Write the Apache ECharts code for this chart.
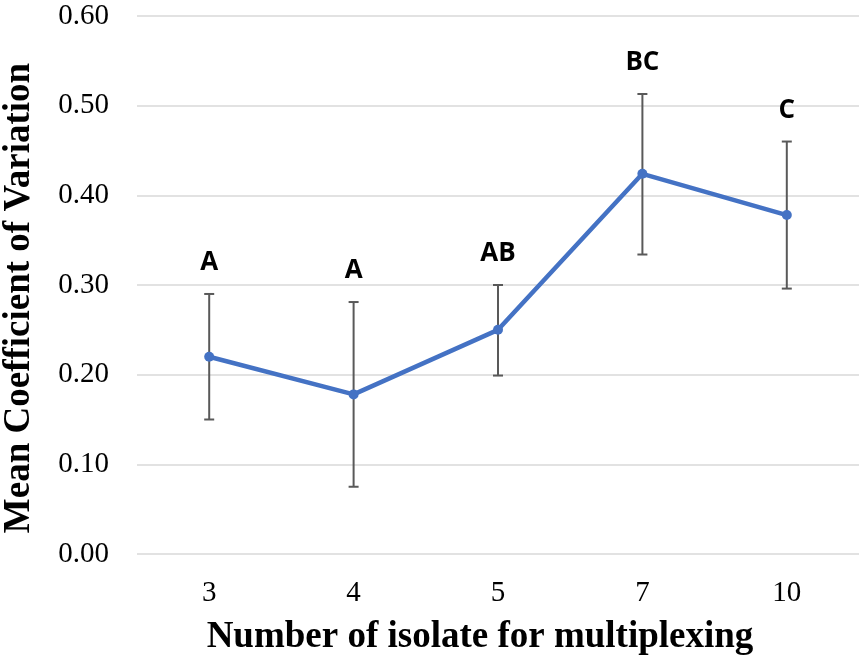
<!DOCTYPE html>
<html>
<head>
<meta charset="utf-8">
<script src="https://cdn.jsdelivr.net/npm/echarts@6/dist/echarts.min.js"></script>
<style>
  html, body { margin: 0; padding: 0; background: #fff; }
  #chart { width: 864px; height: 657px; }
</style>
</head>
<body>
<div id="chart"></div>
<script>
// data
const categories = ['3', '4', '5', '7', '10'];
const meanCV = [0.220, 0.178, 0.250, 0.424, 0.378];
const errLow = [0.150, 0.075, 0.199, 0.334, 0.296];
const errHigh = [0.290, 0.281, 0.300, 0.513, 0.460];
const groupLetters = ['A', 'A', 'AB', 'BC', 'C'];

const chart = echarts.init(document.getElementById('chart'));

const errData = categories.map((c, i) => [i, errLow[i], errHigh[i]]);

const option = {
  animation: false,
  backgroundColor: '#fff',
  grid: { left: 137, right: 5, top: 16, bottom: 103, outerBoundsMode: 'none' },
  xAxis: {
    type: 'category',
    data: categories,
    boundaryGap: true,
    axisLine: { show: false },
    axisTick: { show: false },
    axisLabel: {
      fontFamily: 'Liberation Serif',
      fontSize: 29,
      color: '#000',
      margin: 25
    },
    name: 'Number of isolate for multiplexing',
    nameLocation: 'middle',
    nameGap: 65,
    nameTextStyle: {
      fontFamily: 'Liberation Serif',
      fontWeight: 'bold',
      fontSize: 37,
      color: '#000',
      padding: [0, 36, 0, 0]
    }
  },
  yAxis: {
    type: 'value',
    min: 0,
    max: 0.6,
    interval: 0.1,
    axisLine: { show: false },
    axisTick: { show: false },
    axisLabel: {
      fontFamily: 'Liberation Serif',
      fontSize: 29,
      color: '#000',
      margin: 28,
      formatter: v => v.toFixed(2)
    },
    splitLine: { lineStyle: { color: '#d9d9d9', width: 1.5 } },
    name: 'Mean Coefficient of Variation',
    nameLocation: 'middle',
    nameGap: 99,
    nameTextStyle: {
      fontFamily: 'Liberation Serif',
      fontWeight: 'bold',
      fontSize: 37,
      color: '#000',
      padding: [0, 26, 0, 0]
    }
  },
  series: [
    {
      type: 'custom',
      data: errData,
      z: 1,
      renderItem: function (params, api) {
        const x = api.coord([api.value(0), 0])[0];
        const lo = api.coord([api.value(0), api.value(1)])[1];
        const hi = api.coord([api.value(0), api.value(2)])[1];
        const cap = 5;
        const style = { stroke: '#595959', lineWidth: 2 };
        return {
          type: 'group',
          children: [
            { type: 'line', shape: { x1: x, y1: lo, x2: x, y2: hi }, style },
            { type: 'line', shape: { x1: x - cap, y1: lo, x2: x + cap, y2: lo }, style },
            { type: 'line', shape: { x1: x - cap, y1: hi, x2: x + cap, y2: hi }, style },
            {
              type: 'text',
              style: {
                x: x,
                y: hi - 31,
                text: groupLetters[params.dataIndex],
                fill: '#000',
                font: 'bold 26px "Open Sans"',
                align: 'center',
                verticalAlign: 'middle'
              }
            }
          ]
        };
      }
    },
    {
      type: 'line',
      data: meanCV,
      z: 2,
      symbol: 'circle',
      symbolSize: 10,
      lineStyle: { color: '#4472c4', width: 4.5 },
      itemStyle: { color: '#4472c4' }
    }
  ]
};

chart.setOption(option);
window.addEventListener('resize', () => chart.resize());
</script>
</body>
</html>
